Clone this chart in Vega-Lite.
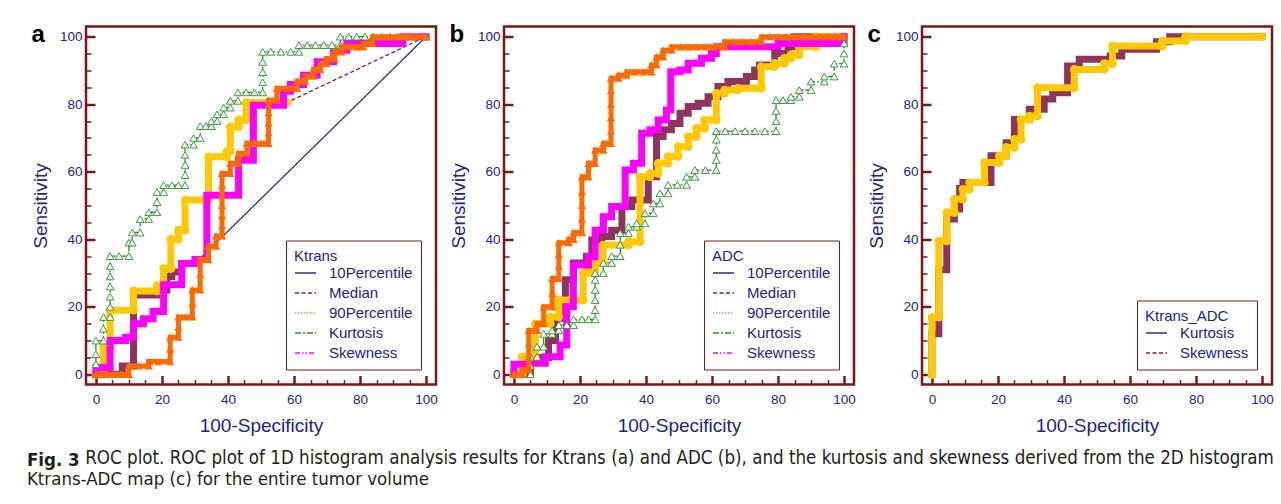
{
  "$schema": "https://vega.github.io/schema/vega-lite/v6.json",
  "padding": {"left": 26, "top": 20.5, "right": 0, "bottom": 0},
  "autosize": {"type": "pad"},
  "datasets": {
    "a": [
      {"s":"10Percentile","x":0,"y":0},{"s":"10Percentile","x":8,"y":0},{"s":"10Percentile","x":8,"y":2.5},{"s":"10Percentile","x":11.4,"y":2.5},{"s":"10Percentile","x":11.4,"y":23.5},{"s":"10Percentile","x":18.5,"y":23.5},{"s":"10Percentile","x":18.5,"y":25},{"s":"10Percentile","x":21.5,"y":25},{"s":"10Percentile","x":21.5,"y":29},{"s":"10Percentile","x":23,"y":29},{"s":"10Percentile","x":23,"y":30.3},{"s":"10Percentile","x":26,"y":30.3},{"s":"10Percentile","x":26,"y":32.8},{"s":"10Percentile","x":30,"y":32.8},{"s":"10Percentile","x":100,"y":100,"m":0},
      {"s":"Median","x":0,"y":0},{"s":"Median","x":2.3,"y":0},{"s":"Median","x":2.3,"y":8},{"s":"Median","x":4.3,"y":8},{"s":"Median","x":4.3,"y":19},{"s":"Median","x":11.4,"y":19},{"s":"Median","x":11.4,"y":24.7},{"s":"Median","x":18.5,"y":24.7},{"s":"Median","x":18.5,"y":26.3},{"s":"Median","x":20.5,"y":26.3},{"s":"Median","x":20.5,"y":31.3},{"s":"Median","x":22.7,"y":31.3},{"s":"Median","x":22.7,"y":40},{"s":"Median","x":25,"y":40},{"s":"Median","x":25,"y":42.7},{"s":"Median","x":27,"y":42.7},{"s":"Median","x":27,"y":51.6},{"s":"Median","x":34.1,"y":51.6},{"s":"Median","x":34.1,"y":64.4},{"s":"Median","x":39.7,"y":64.4},{"s":"Median","x":39.7,"y":66},{"s":"Median","x":40.7,"y":66},{"s":"Median","x":40.7,"y":73.3},{"s":"Median","x":43.2,"y":73.3},{"s":"Median","x":43.2,"y":75.3},{"s":"Median","x":45.5,"y":75.3},{"s":"Median","x":45.5,"y":80.5},{"s":"Median","x":57.9,"y":80.5},{"s":"Median","x":100,"y":100,"m":0},
      {"s":"90Percentile","x":0,"y":0},{"s":"90Percentile","x":2.5,"y":0},{"s":"90Percentile","x":5,"y":0},{"s":"90Percentile","x":7.5,"y":0},{"s":"90Percentile","x":10,"y":0},{"s":"90Percentile","x":10,"y":2.5},{"s":"90Percentile","x":13,"y":2.5},{"s":"90Percentile","x":16,"y":2.5},{"s":"90Percentile","x":16,"y":3.8},{"s":"90Percentile","x":19,"y":3.8},{"s":"90Percentile","x":22.5,"y":3.8},{"s":"90Percentile","x":22.5,"y":7.5},{"s":"90Percentile","x":22.5,"y":11},{"s":"90Percentile","x":25,"y":11},{"s":"90Percentile","x":25,"y":14},{"s":"90Percentile","x":25,"y":17},{"s":"90Percentile","x":27,"y":17},{"s":"90Percentile","x":29.2,"y":17},{"s":"90Percentile","x":29.2,"y":21},{"s":"90Percentile","x":29.2,"y":25},{"s":"90Percentile","x":31.6,"y":25},{"s":"90Percentile","x":31.6,"y":29.5},{"s":"90Percentile","x":31.6,"y":34},{"s":"90Percentile","x":34.1,"y":34},{"s":"90Percentile","x":34.1,"y":38},{"s":"90Percentile","x":36.4,"y":38},{"s":"90Percentile","x":36.4,"y":41},{"s":"90Percentile","x":38.2,"y":41},{"s":"90Percentile","x":38.2,"y":44},{"s":"90Percentile","x":38.2,"y":47},{"s":"90Percentile","x":38.2,"y":50},{"s":"90Percentile","x":38.2,"y":53},{"s":"90Percentile","x":38.2,"y":56},{"s":"90Percentile","x":38.2,"y":59.5},{"s":"90Percentile","x":40.7,"y":59.5},{"s":"90Percentile","x":40.7,"y":62.5},{"s":"90Percentile","x":43.2,"y":62.5},{"s":"90Percentile","x":43.2,"y":65.4},{"s":"90Percentile","x":45.7,"y":65.4},{"s":"90Percentile","x":45.7,"y":68.4},{"s":"90Percentile","x":48,"y":68.4},{"s":"90Percentile","x":50.2,"y":68.4},{"s":"90Percentile","x":52.3,"y":68.4},{"s":"90Percentile","x":52.3,"y":71.5},{"s":"90Percentile","x":52.3,"y":74.5},{"s":"90Percentile","x":52.3,"y":77.5},{"s":"90Percentile","x":52.3,"y":81.2},{"s":"90Percentile","x":54.8,"y":81.2},{"s":"90Percentile","x":54.8,"y":84.7},{"s":"90Percentile","x":57.8,"y":84.7},{"s":"90Percentile","x":60.9,"y":84.7},{"s":"90Percentile","x":60.9,"y":86.8},{"s":"90Percentile","x":63.4,"y":86.8},{"s":"90Percentile","x":63.4,"y":88.3},{"s":"90Percentile","x":65.9,"y":88.3},{"s":"90Percentile","x":65.9,"y":90.3},{"s":"90Percentile","x":68,"y":90.3},{"s":"90Percentile","x":68,"y":92},{"s":"90Percentile","x":69.8,"y":92},{"s":"90Percentile","x":69.8,"y":93.5},{"s":"90Percentile","x":72.3,"y":93.5},{"s":"90Percentile","x":72.3,"y":95.5},{"s":"90Percentile","x":74.3,"y":95.5},{"s":"90Percentile","x":74.3,"y":97},{"s":"90Percentile","x":76.5,"y":97},{"s":"90Percentile","x":79,"y":97},{"s":"90Percentile","x":81,"y":97},{"s":"90Percentile","x":81,"y":98},{"s":"90Percentile","x":83.8,"y":98},{"s":"90Percentile","x":83.8,"y":100},{"s":"90Percentile","x":86.5,"y":100},{"s":"90Percentile","x":89,"y":100},{"s":"90Percentile","x":91.5,"y":100},{"s":"90Percentile","x":94,"y":100},{"s":"90Percentile","x":96.5,"y":100},{"s":"90Percentile","x":100,"y":100},
      {"s":"Kurtosis","x":0,"y":0},{"s":"Kurtosis","x":0,"y":3},{"s":"Kurtosis","x":0,"y":6},{"s":"Kurtosis","x":0,"y":10},{"s":"Kurtosis","x":2.3,"y":10},{"s":"Kurtosis","x":2.3,"y":13.5},{"s":"Kurtosis","x":2.3,"y":17},{"s":"Kurtosis","x":4.3,"y":17},{"s":"Kurtosis","x":4.3,"y":20},{"s":"Kurtosis","x":4.3,"y":23},{"s":"Kurtosis","x":4.3,"y":26},{"s":"Kurtosis","x":4.3,"y":29},{"s":"Kurtosis","x":4.3,"y":32},{"s":"Kurtosis","x":4.3,"y":35},{"s":"Kurtosis","x":7,"y":35},{"s":"Kurtosis","x":10,"y":35},{"s":"Kurtosis","x":10,"y":39},{"s":"Kurtosis","x":11,"y":39},{"s":"Kurtosis","x":11,"y":42},{"s":"Kurtosis","x":13.4,"y":42},{"s":"Kurtosis","x":13.4,"y":46},{"s":"Kurtosis","x":16,"y":46},{"s":"Kurtosis","x":16,"y":48},{"s":"Kurtosis","x":18.5,"y":48},{"s":"Kurtosis","x":18.5,"y":51},{"s":"Kurtosis","x":18.5,"y":54},{"s":"Kurtosis","x":20.5,"y":54},{"s":"Kurtosis","x":20.5,"y":56},{"s":"Kurtosis","x":23,"y":56},{"s":"Kurtosis","x":25,"y":56},{"s":"Kurtosis","x":27,"y":56},{"s":"Kurtosis","x":27,"y":59},{"s":"Kurtosis","x":27,"y":62},{"s":"Kurtosis","x":27,"y":65},{"s":"Kurtosis","x":27,"y":68},{"s":"Kurtosis","x":29.6,"y":68},{"s":"Kurtosis","x":29.6,"y":70},{"s":"Kurtosis","x":31.6,"y":70},{"s":"Kurtosis","x":31.6,"y":73.5},{"s":"Kurtosis","x":33.3,"y":73.5},{"s":"Kurtosis","x":35,"y":73.5},{"s":"Kurtosis","x":35,"y":75},{"s":"Kurtosis","x":36.7,"y":75},{"s":"Kurtosis","x":36.7,"y":77},{"s":"Kurtosis","x":38.7,"y":77},{"s":"Kurtosis","x":38.7,"y":79},{"s":"Kurtosis","x":40.7,"y":79},{"s":"Kurtosis","x":40.7,"y":81},{"s":"Kurtosis","x":43,"y":81},{"s":"Kurtosis","x":43,"y":83.5},{"s":"Kurtosis","x":45.5,"y":83.5},{"s":"Kurtosis","x":48,"y":83.5},{"s":"Kurtosis","x":50.5,"y":83.5},{"s":"Kurtosis","x":50.5,"y":86.5},{"s":"Kurtosis","x":50.5,"y":89.5},{"s":"Kurtosis","x":50.5,"y":92.5},{"s":"Kurtosis","x":50.5,"y":95.5},{"s":"Kurtosis","x":53,"y":95.5},{"s":"Kurtosis","x":56,"y":95.5},{"s":"Kurtosis","x":59,"y":95.5},{"s":"Kurtosis","x":61.5,"y":95.5},{"s":"Kurtosis","x":61.5,"y":97.5},{"s":"Kurtosis","x":64,"y":97.5},{"s":"Kurtosis","x":66.5,"y":97.5},{"s":"Kurtosis","x":69,"y":97.5},{"s":"Kurtosis","x":71.5,"y":97.5},{"s":"Kurtosis","x":74,"y":97.5},{"s":"Kurtosis","x":74,"y":100},{"s":"Kurtosis","x":76.5,"y":100},{"s":"Kurtosis","x":79,"y":100},{"s":"Kurtosis","x":81.5,"y":100},{"s":"Kurtosis","x":84,"y":100},{"s":"Kurtosis","x":86.5,"y":100},{"s":"Kurtosis","x":89,"y":100},{"s":"Kurtosis","x":91.5,"y":100},{"s":"Kurtosis","x":94,"y":100},{"s":"Kurtosis","x":96.5,"y":100},{"s":"Kurtosis","x":100,"y":100},
      {"s":"Skewness","x":0,"y":0},{"s":"Skewness","x":0,"y":2},{"s":"Skewness","x":4.3,"y":2},{"s":"Skewness","x":4.3,"y":10},{"s":"Skewness","x":9,"y":10},{"s":"Skewness","x":9,"y":11},{"s":"Skewness","x":11.4,"y":11},{"s":"Skewness","x":11.4,"y":15},{"s":"Skewness","x":14.4,"y":15},{"s":"Skewness","x":14.4,"y":16.5},{"s":"Skewness","x":17.3,"y":16.5},{"s":"Skewness","x":17.3,"y":18.6},{"s":"Skewness","x":20.5,"y":18.6},{"s":"Skewness","x":20.5,"y":26.5},{"s":"Skewness","x":26,"y":26.5},{"s":"Skewness","x":26,"y":32.8},{"s":"Skewness","x":30,"y":32.8},{"s":"Skewness","x":30,"y":34},{"s":"Skewness","x":33.6,"y":34},{"s":"Skewness","x":33.6,"y":53},{"s":"Skewness","x":43.2,"y":53},{"s":"Skewness","x":43.2,"y":63.4},{"s":"Skewness","x":47.7,"y":63.4},{"s":"Skewness","x":47.7,"y":79.7},{"s":"Skewness","x":56.8,"y":79.7},{"s":"Skewness","x":56.8,"y":83.8},{"s":"Skewness","x":58.9,"y":83.8},{"s":"Skewness","x":58.9,"y":85.8},{"s":"Skewness","x":62.9,"y":85.8},{"s":"Skewness","x":62.9,"y":88.6},{"s":"Skewness","x":67,"y":88.6},{"s":"Skewness","x":67,"y":92.6},{"s":"Skewness","x":72,"y":92.6},{"s":"Skewness","x":72,"y":96},{"s":"Skewness","x":76,"y":96},{"s":"Skewness","x":76,"y":98},{"s":"Skewness","x":93,"y":98},{"s":"Skewness","x":93,"y":100},{"s":"Skewness","x":100,"y":100}
    ],
    "b": [
      {"s":"10Percentile","x":0,"y":0},{"s":"10Percentile","x":5,"y":0},{"s":"10Percentile","x":5,"y":5},{"s":"10Percentile","x":10.5,"y":5},{"s":"10Percentile","x":10.5,"y":10},{"s":"10Percentile","x":12.6,"y":10},{"s":"10Percentile","x":12.6,"y":16.6},{"s":"10Percentile","x":15.6,"y":16.6},{"s":"10Percentile","x":15.6,"y":28},{"s":"10Percentile","x":18,"y":28},{"s":"10Percentile","x":18,"y":33},{"s":"10Percentile","x":22,"y":33},{"s":"10Percentile","x":22,"y":35},{"s":"10Percentile","x":23.6,"y":35},{"s":"10Percentile","x":23.6,"y":39.8},{"s":"10Percentile","x":26.6,"y":39.8},{"s":"10Percentile","x":26.6,"y":40.8},{"s":"10Percentile","x":29.6,"y":40.8},{"s":"10Percentile","x":29.6,"y":42.7},{"s":"10Percentile","x":32.7,"y":42.7},{"s":"10Percentile","x":32.7,"y":49.7},{"s":"10Percentile","x":35.7,"y":49.7},{"s":"10Percentile","x":35.7,"y":51.6},{"s":"10Percentile","x":40.7,"y":51.6},{"s":"10Percentile","x":40.7,"y":58.5},{"s":"10Percentile","x":43.2,"y":58.5},{"s":"10Percentile","x":43.2,"y":70.4},{"s":"10Percentile","x":45.2,"y":70.4},{"s":"10Percentile","x":45.2,"y":72.4},{"s":"10Percentile","x":47.7,"y":72.4},{"s":"10Percentile","x":47.7,"y":74.3},{"s":"10Percentile","x":50.3,"y":74.3},{"s":"10Percentile","x":50.3,"y":77.3},{"s":"10Percentile","x":52.8,"y":77.3},{"s":"10Percentile","x":52.8,"y":79.3},{"s":"10Percentile","x":55.8,"y":79.3},{"s":"10Percentile","x":55.8,"y":80.3},{"s":"10Percentile","x":58.8,"y":80.3},{"s":"10Percentile","x":58.8,"y":82.2},{"s":"10Percentile","x":61.8,"y":82.2},{"s":"10Percentile","x":61.8,"y":85.2},{"s":"10Percentile","x":64.8,"y":85.2},{"s":"10Percentile","x":64.8,"y":86.7},{"s":"10Percentile","x":70.4,"y":86.7},{"s":"10Percentile","x":70.4,"y":88.2},{"s":"10Percentile","x":72.9,"y":88.2},{"s":"10Percentile","x":72.9,"y":90.1},{"s":"10Percentile","x":74.4,"y":90.1},{"s":"10Percentile","x":74.4,"y":91.6},{"s":"10Percentile","x":79,"y":91.6},{"s":"10Percentile","x":79,"y":95},{"s":"10Percentile","x":83,"y":95},{"s":"10Percentile","x":83,"y":97},{"s":"10Percentile","x":85,"y":97},{"s":"10Percentile","x":85,"y":100},{"s":"10Percentile","x":100,"y":100},
      {"s":"Median","x":0,"y":0},{"s":"Median","x":2.5,"y":0},{"s":"Median","x":2.5,"y":5.2},{"s":"Median","x":6.5,"y":5.2},{"s":"Median","x":6.5,"y":15},{"s":"Median","x":11,"y":15},{"s":"Median","x":11,"y":17},{"s":"Median","x":13.6,"y":17},{"s":"Median","x":13.6,"y":22},{"s":"Median","x":21,"y":22},{"s":"Median","x":21,"y":30},{"s":"Median","x":22.6,"y":30},{"s":"Median","x":22.6,"y":31},{"s":"Median","x":24.6,"y":31},{"s":"Median","x":24.6,"y":33},{"s":"Median","x":27,"y":33},{"s":"Median","x":27,"y":38.3},{"s":"Median","x":34.7,"y":38.3},{"s":"Median","x":34.7,"y":39.3},{"s":"Median","x":38.2,"y":39.3},{"s":"Median","x":38.2,"y":58.5},{"s":"Median","x":41.2,"y":58.5},{"s":"Median","x":41.2,"y":59.5},{"s":"Median","x":43.7,"y":59.5},{"s":"Median","x":43.7,"y":62.5},{"s":"Median","x":46.7,"y":62.5},{"s":"Median","x":46.7,"y":64.5},{"s":"Median","x":49.7,"y":64.5},{"s":"Median","x":49.7,"y":67.4},{"s":"Median","x":52.8,"y":67.4},{"s":"Median","x":52.8,"y":70.4},{"s":"Median","x":55.3,"y":70.4},{"s":"Median","x":55.3,"y":72.9},{"s":"Median","x":57.8,"y":72.9},{"s":"Median","x":57.8,"y":75.3},{"s":"Median","x":61.3,"y":75.3},{"s":"Median","x":61.3,"y":83.2},{"s":"Median","x":63.8,"y":83.2},{"s":"Median","x":63.8,"y":84.2},{"s":"Median","x":67.8,"y":84.2},{"s":"Median","x":67.8,"y":84.7},{"s":"Median","x":74.9,"y":84.7},{"s":"Median","x":74.9,"y":91.1},{"s":"Median","x":78.9,"y":91.1},{"s":"Median","x":78.9,"y":92.1},{"s":"Median","x":81.9,"y":92.1},{"s":"Median","x":81.9,"y":93.6},{"s":"Median","x":83.9,"y":93.6},{"s":"Median","x":83.9,"y":94.6},{"s":"Median","x":86.4,"y":94.6},{"s":"Median","x":86.4,"y":97},{"s":"Median","x":91.5,"y":97},{"s":"Median","x":91.5,"y":100},{"s":"Median","x":100,"y":100},
      {"s":"90Percentile","x":0,"y":0},{"s":"90Percentile","x":2.5,"y":0},{"s":"90Percentile","x":2.5,"y":1.5},{"s":"90Percentile","x":4.5,"y":1.5},{"s":"90Percentile","x":4.5,"y":5},{"s":"90Percentile","x":4.5,"y":9},{"s":"90Percentile","x":4.5,"y":13},{"s":"90Percentile","x":7,"y":13},{"s":"90Percentile","x":7,"y":15},{"s":"90Percentile","x":9,"y":15},{"s":"90Percentile","x":9,"y":20},{"s":"90Percentile","x":11.6,"y":20},{"s":"90Percentile","x":11.6,"y":24},{"s":"90Percentile","x":11.6,"y":28.4},{"s":"90Percentile","x":13.6,"y":28.4},{"s":"90Percentile","x":13.6,"y":32},{"s":"90Percentile","x":13.6,"y":35.5},{"s":"90Percentile","x":13.6,"y":39},{"s":"90Percentile","x":16.6,"y":39},{"s":"90Percentile","x":16.6,"y":40},{"s":"90Percentile","x":18.1,"y":40},{"s":"90Percentile","x":18.1,"y":42},{"s":"90Percentile","x":20.6,"y":42},{"s":"90Percentile","x":20.6,"y":46},{"s":"90Percentile","x":20.6,"y":50},{"s":"90Percentile","x":20.6,"y":54},{"s":"90Percentile","x":20.6,"y":58.5},{"s":"90Percentile","x":22.6,"y":58.5},{"s":"90Percentile","x":22.6,"y":62.5},{"s":"90Percentile","x":24.6,"y":62.5},{"s":"90Percentile","x":24.6,"y":66.4},{"s":"90Percentile","x":27.1,"y":66.4},{"s":"90Percentile","x":27.1,"y":68.4},{"s":"90Percentile","x":29.4,"y":68.4},{"s":"90Percentile","x":29.4,"y":72},{"s":"90Percentile","x":29.4,"y":76},{"s":"90Percentile","x":29.4,"y":80},{"s":"90Percentile","x":29.4,"y":84},{"s":"90Percentile","x":29.4,"y":87.7},{"s":"90Percentile","x":31.7,"y":87.7},{"s":"90Percentile","x":31.7,"y":88.6},{"s":"90Percentile","x":34.2,"y":88.6},{"s":"90Percentile","x":34.2,"y":89.6},{"s":"90Percentile","x":36.7,"y":89.6},{"s":"90Percentile","x":39.2,"y":89.6},{"s":"90Percentile","x":41.7,"y":89.6},{"s":"90Percentile","x":41.7,"y":91.6},{"s":"90Percentile","x":43.2,"y":91.6},{"s":"90Percentile","x":43.2,"y":94},{"s":"90Percentile","x":45.2,"y":94},{"s":"90Percentile","x":45.2,"y":96},{"s":"90Percentile","x":47.7,"y":96},{"s":"90Percentile","x":47.7,"y":97},{"s":"90Percentile","x":50.5,"y":97},{"s":"90Percentile","x":53,"y":97},{"s":"90Percentile","x":55.5,"y":97},{"s":"90Percentile","x":58,"y":97},{"s":"90Percentile","x":60.5,"y":97},{"s":"90Percentile","x":63.8,"y":97},{"s":"90Percentile","x":63.8,"y":98.5},{"s":"90Percentile","x":66.5,"y":98.5},{"s":"90Percentile","x":69,"y":98.5},{"s":"90Percentile","x":72,"y":98.5},{"s":"90Percentile","x":75,"y":98.5},{"s":"90Percentile","x":75,"y":100},{"s":"90Percentile","x":77.5,"y":100},{"s":"90Percentile","x":80,"y":100},{"s":"90Percentile","x":82.5,"y":100},{"s":"90Percentile","x":85,"y":100},{"s":"90Percentile","x":87.5,"y":100},{"s":"90Percentile","x":90,"y":100},{"s":"90Percentile","x":92.5,"y":100},{"s":"90Percentile","x":95,"y":100},{"s":"90Percentile","x":97.5,"y":100},{"s":"90Percentile","x":100,"y":100},
      {"s":"Kurtosis","x":0,"y":0},{"s":"Kurtosis","x":5,"y":0},{"s":"Kurtosis","x":5,"y":2.5},{"s":"Kurtosis","x":5,"y":5.2},{"s":"Kurtosis","x":7,"y":5.2},{"s":"Kurtosis","x":7,"y":8.2},{"s":"Kurtosis","x":9,"y":8.2},{"s":"Kurtosis","x":9,"y":12},{"s":"Kurtosis","x":11.6,"y":12},{"s":"Kurtosis","x":11.6,"y":13},{"s":"Kurtosis","x":13.6,"y":13},{"s":"Kurtosis","x":13.6,"y":14.6},{"s":"Kurtosis","x":16,"y":14.6},{"s":"Kurtosis","x":18.1,"y":14.6},{"s":"Kurtosis","x":18.1,"y":16.3},{"s":"Kurtosis","x":20.6,"y":16.3},{"s":"Kurtosis","x":22.6,"y":16.3},{"s":"Kurtosis","x":24.6,"y":16.3},{"s":"Kurtosis","x":24.6,"y":19},{"s":"Kurtosis","x":24.6,"y":22},{"s":"Kurtosis","x":24.6,"y":25},{"s":"Kurtosis","x":24.6,"y":28},{"s":"Kurtosis","x":24.6,"y":30},{"s":"Kurtosis","x":27.1,"y":30},{"s":"Kurtosis","x":27.1,"y":33},{"s":"Kurtosis","x":29.6,"y":33},{"s":"Kurtosis","x":29.6,"y":35},{"s":"Kurtosis","x":32.2,"y":35},{"s":"Kurtosis","x":32.2,"y":38.4},{"s":"Kurtosis","x":32.2,"y":41.8},{"s":"Kurtosis","x":34.7,"y":41.8},{"s":"Kurtosis","x":34.7,"y":43.7},{"s":"Kurtosis","x":37.2,"y":43.7},{"s":"Kurtosis","x":37.2,"y":44.7},{"s":"Kurtosis","x":39.7,"y":44.7},{"s":"Kurtosis","x":39.7,"y":47.7},{"s":"Kurtosis","x":42.2,"y":47.7},{"s":"Kurtosis","x":42.2,"y":50.6},{"s":"Kurtosis","x":44.2,"y":50.6},{"s":"Kurtosis","x":44.2,"y":53.6},{"s":"Kurtosis","x":46.7,"y":53.6},{"s":"Kurtosis","x":46.7,"y":56.1},{"s":"Kurtosis","x":49.5,"y":56.1},{"s":"Kurtosis","x":52.3,"y":56.1},{"s":"Kurtosis","x":52.3,"y":58.5},{"s":"Kurtosis","x":54.8,"y":58.5},{"s":"Kurtosis","x":54.8,"y":60.5},{"s":"Kurtosis","x":58,"y":60.5},{"s":"Kurtosis","x":61.3,"y":60.5},{"s":"Kurtosis","x":61.3,"y":63.5},{"s":"Kurtosis","x":61.3,"y":66.5},{"s":"Kurtosis","x":61.3,"y":69.5},{"s":"Kurtosis","x":61.3,"y":72},{"s":"Kurtosis","x":64,"y":72},{"s":"Kurtosis","x":67,"y":72},{"s":"Kurtosis","x":70,"y":72},{"s":"Kurtosis","x":73,"y":72},{"s":"Kurtosis","x":76,"y":72},{"s":"Kurtosis","x":79.4,"y":72},{"s":"Kurtosis","x":79.4,"y":75},{"s":"Kurtosis","x":79.4,"y":78},{"s":"Kurtosis","x":79.4,"y":81.2},{"s":"Kurtosis","x":81.5,"y":81.2},{"s":"Kurtosis","x":83.9,"y":81.2},{"s":"Kurtosis","x":83.9,"y":82.2},{"s":"Kurtosis","x":86.4,"y":82.2},{"s":"Kurtosis","x":86.4,"y":84.2},{"s":"Kurtosis","x":90,"y":84.2},{"s":"Kurtosis","x":90,"y":86.7},{"s":"Kurtosis","x":94,"y":86.7},{"s":"Kurtosis","x":94,"y":88.2},{"s":"Kurtosis","x":97,"y":88.2},{"s":"Kurtosis","x":97,"y":92},{"s":"Kurtosis","x":100,"y":92},{"s":"Kurtosis","x":100,"y":95},{"s":"Kurtosis","x":100,"y":98},{"s":"Kurtosis","x":100,"y":100},
      {"s":"Skewness","x":0,"y":0},{"s":"Skewness","x":0,"y":3},{"s":"Skewness","x":5,"y":3},{"s":"Skewness","x":5,"y":3.3},{"s":"Skewness","x":9.5,"y":3.3},{"s":"Skewness","x":9.5,"y":5.2},{"s":"Skewness","x":14,"y":5.2},{"s":"Skewness","x":14,"y":8.7},{"s":"Skewness","x":16,"y":8.7},{"s":"Skewness","x":16,"y":20},{"s":"Skewness","x":18,"y":20},{"s":"Skewness","x":18,"y":32.4},{"s":"Skewness","x":22.6,"y":32.4},{"s":"Skewness","x":22.6,"y":34.8},{"s":"Skewness","x":24.6,"y":34.8},{"s":"Skewness","x":24.6,"y":42.7},{"s":"Skewness","x":27.1,"y":42.7},{"s":"Skewness","x":27.1,"y":46.7},{"s":"Skewness","x":29.6,"y":46.7},{"s":"Skewness","x":29.6,"y":49.7},{"s":"Skewness","x":33.7,"y":49.7},{"s":"Skewness","x":33.7,"y":60.5},{"s":"Skewness","x":36.2,"y":60.5},{"s":"Skewness","x":36.2,"y":62.5},{"s":"Skewness","x":38.7,"y":62.5},{"s":"Skewness","x":38.7,"y":71.4},{"s":"Skewness","x":41.2,"y":71.4},{"s":"Skewness","x":41.2,"y":72.4},{"s":"Skewness","x":43.7,"y":72.4},{"s":"Skewness","x":43.7,"y":75.3},{"s":"Skewness","x":46.2,"y":75.3},{"s":"Skewness","x":46.2,"y":78.3},{"s":"Skewness","x":47.5,"y":78.3},{"s":"Skewness","x":47.5,"y":89.6},{"s":"Skewness","x":50.3,"y":89.6},{"s":"Skewness","x":50.3,"y":90.1},{"s":"Skewness","x":52.8,"y":90.1},{"s":"Skewness","x":52.8,"y":92.1},{"s":"Skewness","x":56.8,"y":92.1},{"s":"Skewness","x":56.8,"y":93.6},{"s":"Skewness","x":59.8,"y":93.6},{"s":"Skewness","x":59.8,"y":95},{"s":"Skewness","x":61.3,"y":95},{"s":"Skewness","x":61.3,"y":97},{"s":"Skewness","x":80,"y":97},{"s":"Skewness","x":80,"y":98},{"s":"Skewness","x":100,"y":98},{"s":"Skewness","x":100,"y":100}
    ],
    "c": [
      {"s":"Kurtosis","x":0,"y":0},{"s":"Kurtosis","x":0,"y":12},{"s":"Kurtosis","x":2.1,"y":12},{"s":"Kurtosis","x":2.1,"y":31},{"s":"Kurtosis","x":4.5,"y":31},{"s":"Kurtosis","x":4.5,"y":46},{"s":"Kurtosis","x":6.8,"y":46},{"s":"Kurtosis","x":6.8,"y":49},{"s":"Kurtosis","x":8.4,"y":49},{"s":"Kurtosis","x":8.4,"y":55},{"s":"Kurtosis","x":9.4,"y":55},{"s":"Kurtosis","x":9.4,"y":56.8},{"s":"Kurtosis","x":17.9,"y":56.8},{"s":"Kurtosis","x":17.9,"y":64.7},{"s":"Kurtosis","x":22.5,"y":64.7},{"s":"Kurtosis","x":22.5,"y":68.6},{"s":"Kurtosis","x":25,"y":68.6},{"s":"Kurtosis","x":25,"y":75.5},{"s":"Kurtosis","x":29.5,"y":75.5},{"s":"Kurtosis","x":29.5,"y":78.5},{"s":"Kurtosis","x":34,"y":78.5},{"s":"Kurtosis","x":34,"y":81.5},{"s":"Kurtosis","x":36.6,"y":81.5},{"s":"Kurtosis","x":36.6,"y":83.4},{"s":"Kurtosis","x":41.1,"y":83.4},{"s":"Kurtosis","x":41.1,"y":91.3},{"s":"Kurtosis","x":44.6,"y":91.3},{"s":"Kurtosis","x":44.6,"y":93.3},{"s":"Kurtosis","x":54,"y":93.3},{"s":"Kurtosis","x":54,"y":94.3},{"s":"Kurtosis","x":57.5,"y":94.3},{"s":"Kurtosis","x":57.5,"y":96.3},{"s":"Kurtosis","x":68,"y":96.3},{"s":"Kurtosis","x":68,"y":98.5},{"s":"Kurtosis","x":72,"y":98.5},{"s":"Kurtosis","x":72,"y":100},{"s":"Kurtosis","x":100,"y":100},
      {"s":"Skewness","x":0,"y":0},{"s":"Skewness","x":0,"y":16.9},{"s":"Skewness","x":2.1,"y":16.9},{"s":"Skewness","x":2.1,"y":39.5},{"s":"Skewness","x":4.5,"y":39.5},{"s":"Skewness","x":4.5,"y":47.9},{"s":"Skewness","x":6.8,"y":47.9},{"s":"Skewness","x":6.8,"y":51.9},{"s":"Skewness","x":9.4,"y":51.9},{"s":"Skewness","x":9.4,"y":54.8},{"s":"Skewness","x":11.4,"y":54.8},{"s":"Skewness","x":11.4,"y":56.8},{"s":"Skewness","x":15.9,"y":56.8},{"s":"Skewness","x":15.9,"y":62.7},{"s":"Skewness","x":20.4,"y":62.7},{"s":"Skewness","x":20.4,"y":64.7},{"s":"Skewness","x":22.5,"y":64.7},{"s":"Skewness","x":22.5,"y":67.2},{"s":"Skewness","x":25,"y":67.2},{"s":"Skewness","x":25,"y":69.6},{"s":"Skewness","x":27,"y":69.6},{"s":"Skewness","x":27,"y":75.5},{"s":"Skewness","x":29.5,"y":75.5},{"s":"Skewness","x":29.5,"y":76.5},{"s":"Skewness","x":32,"y":76.5},{"s":"Skewness","x":32,"y":84.9},{"s":"Skewness","x":43.1,"y":84.9},{"s":"Skewness","x":43.1,"y":90.3},{"s":"Skewness","x":52.2,"y":90.3},{"s":"Skewness","x":52.2,"y":92},{"s":"Skewness","x":54.7,"y":92},{"s":"Skewness","x":54.7,"y":97.2},{"s":"Skewness","x":69.8,"y":97.2},{"s":"Skewness","x":69.8,"y":98.7},{"s":"Skewness","x":76.8,"y":98.7},{"s":"Skewness","x":76.8,"y":100},{"s":"Skewness","x":100,"y":100}
    ]
  },
  "title": {
    "text": "Fig. 3",
    "subtitle": "Ktrans-ADC map (c) for the entire tumor volume",
    "orient": "bottom", "anchor": "start", "frame": "bounds",
    "font": "DejaVu Sans Condensed", "fontSize": 18.5, "fontWeight": "bold", "color": "#231f20",
    "subtitleFont": "DejaVu Sans Condensed", "subtitleFontSize": 18.5, "subtitleFontWeight": "normal", "subtitleColor": "#231f20",
    "subtitlePadding": 0.5, "offset": 0, "dx": -3.3, "dy": -16.7
  },
  "vconcat": [
    {
      "title": {
        "text": "ROC plot. ROC plot of 1D histogram analysis results for Ktrans (a) and ADC (b), and the kurtosis and skewness derived from the 2D histogram",
        "orient": "bottom", "anchor": "start", "frame": "bounds",
        "font": "DejaVu Sans Condensed", "fontSize": 18.6, "fontWeight": "normal", "color": "#231f20",
        "offset": 13, "dx": 55, "limit": 2000
      },
      "spacing": 6,
      "resolve": {"scale": {"color": "independent", "strokeDash": "independent"}},
      "hconcat": [
        {
          "width": 350, "height": 358,
          "title": {"text": "a", "anchor": "start", "frame": "bounds", "orient": "top", "fontSize": 24, "fontWeight": "bold", "color": "#000000", "font": "Liberation Sans", "baseline": "alphabetic", "offset": -28, "dy": 15},
          "data": {"name": "a"},
          "encoding": {
            "x": {"field": "x", "type": "quantitative", "scale": {"domain": [-3, 103], "nice": false, "zero": false},
              "axis": {"title": "100-Specificity", "values": [0,5,10,15,20,25,30,35,40,45,50,55,60,65,70,75,80,85,90,95,100], "labelExpr": "datum.value % 20 === 0 ? datum.label : ''", "tickSize": {"condition": {"test": "datum.value % 20 === 0", "value": -9}, "value": -5}, "tickWidth": {"condition": {"test": "datum.value % 20 === 0", "value": 2.5}, "value": 1.5}, "labelPadding": 17, "titlePadding": 6}},
            "y": {"field": "y", "type": "quantitative", "scale": {"domain": [-3, 103], "nice": false, "zero": false},
              "axis": {"title": "Sensitivity", "values": [0,5,10,15,20,25,30,35,40,45,50,55,60,65,70,75,80,85,90,95,100], "labelExpr": "datum.value % 20 === 0 ? datum.label : ''", "tickSize": {"condition": {"test": "datum.value % 20 === 0", "value": -9}, "value": -5}, "tickWidth": {"condition": {"test": "datum.value % 20 === 0", "value": 2.5}, "value": 1.5}, "labelPadding": 13, "titlePadding": 9}}
          },
          "layer": [
            {"data": {"values": [{}]}, "mark": {"type": "rule", "color": "#d9a3a3", "strokeWidth": 1}, "encoding": {"x": {"datum": 0}, "y": {"datum": 0}, "x2": {"datum": 100}, "y2": {"datum": 100}}},
            {"mark": {"type": "line", "strokeWidth": 1.3},
             "encoding": {
               "color": {"field": "s", "type": "nominal", "scale": {"domain": ["10Percentile","Median","90Percentile","Kurtosis","Skewness"], "range": ["#2b2b8f","#8b1c1c","#ff8a3c","#2e8b2e","#ff00ff"]}, "legend": {"title": "Ktrans"}},
               "strokeDash": {"field": "s", "type": "nominal", "scale": {"domain": ["10Percentile","Median","90Percentile","Kurtosis","Skewness"], "range": [[1,0],[4,2.5],[1.5,1.5],[6,2,2,2],[5,2,1.5,2,1.5,2]]}, "legend": {"title": "Ktrans"}},
               "order": [{"field": "x"}, {"field": "y"}]}},
            {"transform": [{"filter": "datum.s === '10Percentile' && datum.m !== 0"}], "mark": {"type": "line", "color": "#8e3460", "strokeWidth": 7, "strokeCap": "square", "strokeJoin": "miter"}, "encoding": {"order": [{"field": "x"}, {"field": "y"}]}},
            {"transform": [{"filter": "datum.s === 'Median' && datum.m !== 0"}], "mark": {"type": "line", "color": "#ffc800", "strokeWidth": 7, "strokeCap": "round", "strokeJoin": "round"}, "encoding": {"order": [{"field": "x"}, {"field": "y"}]}},
            {"transform": [{"filter": "datum.s === 'Median' && datum.m !== 0"}], "mark": {"type": "point", "shape": "circle", "size": 75, "filled": true, "color": "#ffc800", "opacity": 1}},
            {"transform": [{"filter": "datum.s === 'Skewness'"}], "mark": {"type": "line", "color": "#ff00ff", "strokeWidth": 7, "strokeCap": "square", "strokeJoin": "miter"}, "encoding": {"order": [{"field": "x"}, {"field": "y"}]}},
            {"transform": [{"filter": "datum.s === 'Kurtosis'"}], "mark": {"type": "point", "shape": "triangle-up", "size": 60, "filled": true, "fill": "#ffffff", "stroke": "#3a9a3a", "strokeWidth": 1, "opacity": 1}},
            {"transform": [{"filter": "datum.s === '90Percentile'"}], "mark": {"type": "line", "color": "#ff6a00", "strokeWidth": 5}, "encoding": {"order": [{"field": "x"}, {"field": "y"}]}},
            {"transform": [{"filter": "datum.s === '90Percentile'"}], "mark": {"type": "point", "shape": "triangle-up", "size": 70, "filled": true, "color": "#ff6a00", "opacity": 1}}
          ]
        },
        {
          "width": 350, "height": 358,
          "title": {"text": "b", "anchor": "start", "frame": "bounds", "orient": "top", "fontSize": 24, "fontWeight": "bold", "color": "#000000", "font": "Liberation Sans", "baseline": "alphabetic", "offset": -28, "dy": 15},
          "data": {"name": "b"},
          "encoding": {
            "x": {"field": "x", "type": "quantitative", "scale": {"domain": [-3, 103], "nice": false, "zero": false},
              "axis": {"title": "100-Specificity", "values": [0,5,10,15,20,25,30,35,40,45,50,55,60,65,70,75,80,85,90,95,100], "labelExpr": "datum.value % 20 === 0 ? datum.label : ''", "tickSize": {"condition": {"test": "datum.value % 20 === 0", "value": -9}, "value": -5}, "tickWidth": {"condition": {"test": "datum.value % 20 === 0", "value": 2.5}, "value": 1.5}, "labelPadding": 17, "titlePadding": 6}},
            "y": {"field": "y", "type": "quantitative", "scale": {"domain": [-3, 103], "nice": false, "zero": false},
              "axis": {"title": "Sensitivity", "values": [0,5,10,15,20,25,30,35,40,45,50,55,60,65,70,75,80,85,90,95,100], "labelExpr": "datum.value % 20 === 0 ? datum.label : ''", "tickSize": {"condition": {"test": "datum.value % 20 === 0", "value": -9}, "value": -5}, "tickWidth": {"condition": {"test": "datum.value % 20 === 0", "value": 2.5}, "value": 1.5}, "labelPadding": 13, "titlePadding": 9}}
          },
          "layer": [
            {"data": {"values": [{}]}, "mark": {"type": "rule", "color": "#d9a3a3", "strokeWidth": 1}, "encoding": {"x": {"datum": 0}, "y": {"datum": 0}, "x2": {"datum": 100}, "y2": {"datum": 100}}},
            {"mark": {"type": "line", "strokeWidth": 1.3},
             "encoding": {
               "color": {"field": "s", "type": "nominal", "scale": {"domain": ["10Percentile","Median","90Percentile","Kurtosis","Skewness"], "range": ["#2b2b8f","#8b1c1c","#ff8a3c","#2e8b2e","#ff00ff"]}, "legend": {"title": "ADC"}},
               "strokeDash": {"field": "s", "type": "nominal", "scale": {"domain": ["10Percentile","Median","90Percentile","Kurtosis","Skewness"], "range": [[1,0],[4,2.5],[1.5,1.5],[6,2,2,2],[5,2,1.5,2,1.5,2]]}, "legend": {"title": "ADC"}},
               "order": [{"field": "x"}, {"field": "y"}]}},
            {"transform": [{"filter": "datum.s === '10Percentile'"}], "mark": {"type": "line", "color": "#8e3460", "strokeWidth": 7, "strokeCap": "square", "strokeJoin": "miter"}, "encoding": {"order": [{"field": "x"}, {"field": "y"}]}},
            {"transform": [{"filter": "datum.s === 'Median'"}], "mark": {"type": "line", "color": "#ffc800", "strokeWidth": 7, "strokeCap": "round", "strokeJoin": "round"}, "encoding": {"order": [{"field": "x"}, {"field": "y"}]}},
            {"transform": [{"filter": "datum.s === 'Median'"}], "mark": {"type": "point", "shape": "circle", "size": 75, "filled": true, "color": "#ffc800", "opacity": 1}},
            {"transform": [{"filter": "datum.s === 'Skewness'"}], "mark": {"type": "line", "color": "#ff00ff", "strokeWidth": 7, "strokeCap": "square", "strokeJoin": "miter"}, "encoding": {"order": [{"field": "x"}, {"field": "y"}]}},
            {"transform": [{"filter": "datum.s === 'Kurtosis'"}], "mark": {"type": "point", "shape": "triangle-up", "size": 60, "filled": true, "fill": "#ffffff", "stroke": "#3a9a3a", "strokeWidth": 1, "opacity": 1}},
            {"transform": [{"filter": "datum.s === '90Percentile'"}], "mark": {"type": "line", "color": "#ff6a00", "strokeWidth": 5}, "encoding": {"order": [{"field": "x"}, {"field": "y"}]}},
            {"transform": [{"filter": "datum.s === '90Percentile'"}], "mark": {"type": "point", "shape": "triangle-up", "size": 70, "filled": true, "color": "#ff6a00", "opacity": 1}}
          ]
        },
        {
          "width": 350, "height": 358,
          "title": {"text": "c", "anchor": "start", "frame": "bounds", "orient": "top", "fontSize": 24, "fontWeight": "bold", "color": "#000000", "font": "Liberation Sans", "baseline": "alphabetic", "offset": -28, "dy": 15},
          "data": {"name": "c"},
          "encoding": {
            "x": {"field": "x", "type": "quantitative", "scale": {"domain": [-3, 103], "nice": false, "zero": false},
              "axis": {"title": "100-Specificity", "values": [0,5,10,15,20,25,30,35,40,45,50,55,60,65,70,75,80,85,90,95,100], "labelExpr": "datum.value % 20 === 0 ? datum.label : ''", "tickSize": {"condition": {"test": "datum.value % 20 === 0", "value": -9}, "value": -5}, "tickWidth": {"condition": {"test": "datum.value % 20 === 0", "value": 2.5}, "value": 1.5}, "labelPadding": 17, "titlePadding": 6}},
            "y": {"field": "y", "type": "quantitative", "scale": {"domain": [-3, 103], "nice": false, "zero": false},
              "axis": {"title": "Sensitivity", "values": [0,5,10,15,20,25,30,35,40,45,50,55,60,65,70,75,80,85,90,95,100], "labelExpr": "datum.value % 20 === 0 ? datum.label : ''", "tickSize": {"condition": {"test": "datum.value % 20 === 0", "value": -9}, "value": -5}, "tickWidth": {"condition": {"test": "datum.value % 20 === 0", "value": 2.5}, "value": 1.5}, "labelPadding": 13, "titlePadding": 9}}
          },
          "layer": [
            {"data": {"values": [{}]}, "mark": {"type": "rule", "color": "#d9a3a3", "strokeWidth": 1}, "encoding": {"x": {"datum": 0}, "y": {"datum": 0}, "x2": {"datum": 100}, "y2": {"datum": 100}}},
            {"mark": {"type": "line", "strokeWidth": 1.3},
             "encoding": {
               "color": {"field": "s", "type": "nominal", "scale": {"domain": ["Kurtosis","Skewness"], "range": ["#2b2b8f","#8b1c1c"]}, "legend": {"title": "Ktrans_ADC"}},
               "strokeDash": {"field": "s", "type": "nominal", "scale": {"domain": ["Kurtosis","Skewness"], "range": [[1,0],[4,2.5]]}, "legend": {"title": "Ktrans_ADC"}},
               "order": [{"field": "x"}, {"field": "y"}]}},
            {"transform": [{"filter": "datum.s === 'Kurtosis'"}], "mark": {"type": "line", "color": "#8e3460", "strokeWidth": 7, "strokeCap": "square", "strokeJoin": "miter"}, "encoding": {"order": [{"field": "x"}, {"field": "y"}]}},
            {"transform": [{"filter": "datum.s === 'Skewness'"}], "mark": {"type": "line", "color": "#ffc800", "strokeWidth": 7, "strokeCap": "round", "strokeJoin": "round"}, "encoding": {"order": [{"field": "x"}, {"field": "y"}]}},
            {"transform": [{"filter": "datum.s === 'Skewness'"}], "mark": {"type": "point", "shape": "circle", "size": 75, "filled": true, "color": "#ffc800", "opacity": 1}}
          ]
        }
      ]
    }
  ],
  "config": {
    "font": "Liberation Sans",
    "view": {"stroke": "#7d1616", "strokeWidth": 2.5},
    "axis": {"domain": false, "grid": false, "tickColor": "#7d1616", "labelFont": "Liberation Sans", "labelFontSize": 13.5, "labelColor": "#22228c", "labelOverlap": false, "titleFont": "Liberation Sans", "titleFontSize": 19, "titleFontWeight": "normal", "titleColor": "#22228c", "zindex": 1},
    "legend": {"orient": "bottom-right", "offset": 15, "fillColor": "#ffffff", "strokeColor": "#7d1616", "padding": 8, "titleFont": "Liberation Sans", "titleFontSize": 15, "titleFontWeight": "normal", "titleColor": "#22228c", "titlePadding": -2, "labelFont": "Liberation Sans", "labelFontSize": 15, "labelColor": "#22228c", "symbolType": "stroke", "symbolSize": 441, "symbolStrokeWidth": 1.5, "labelOffset": 12, "rowPadding": -4}
  }
}
